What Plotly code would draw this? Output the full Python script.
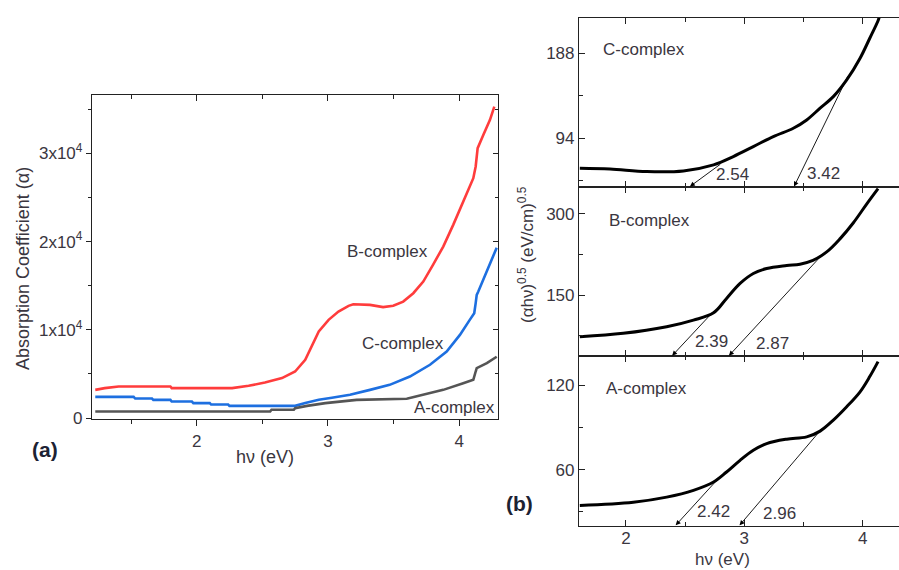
import plotly.graph_objects as go

W, H = 899, 570

# ---------------- Panel (a): absorption coefficient ----------------
B_x = [1.228, 1.30, 1.406, 1.80, 1.81, 2.27, 2.396, 2.52, 2.65, 2.75, 2.827, 2.878, 2.93, 3.005, 3.08, 3.157,
       3.193, 3.32, 3.42, 3.497, 3.573, 3.65, 3.726, 3.80, 3.878, 3.954, 4.03, 4.107, 4.125, 4.14, 4.183,
       4.234, 4.267]
B_y = [3200, 3400, 3580, 3580, 3400, 3400, 3660, 4030, 4530, 5280, 6600, 8110, 9810, 11130, 12070, 12720,
       12900, 12830, 12570, 12720, 13200, 14150, 15470, 17360, 19430, 21890, 24530, 27180, 28500, 30580, 32080,
       33780, 35290]

C_x = [1.228, 1.52, 1.532, 1.66, 1.67, 1.80, 1.81, 1.964, 1.975, 2.10, 2.11, 2.24, 2.25, 2.75, 2.827, 2.93,
       3.03, 3.168, 3.32, 3.47, 3.624, 3.777, 3.904, 4.005, 4.08, 4.114, 4.125, 4.133, 4.145, 4.21, 4.285]
C_y = [2410, 2410, 2220, 2220, 2070, 2070, 1880, 1880, 1700, 1700, 1540, 1540, 1390, 1390, 1700, 2070,
       2300, 2640, 3200, 3770, 4710, 6040, 7540, 9430, 11130, 11890, 13020, 13960, 14340, 16600, 19300]

A_x = [1.228, 2.56, 2.57, 2.74, 2.75, 2.84, 2.98, 3.08, 3.218, 3.60, 3.726, 3.878, 4.03, 4.107, 4.125,
       4.133, 4.21, 4.285]
A_y = [750, 750, 940, 940, 1130, 1390, 1700, 1880, 2070, 2190, 2640, 3200, 3960, 4340, 5280,
       5660, 6230, 6950]

a_ytickvals = [0, 10000, 20000, 30000]
a_yticktext = ["0", "1x10<sup>4</sup>", "2x10<sup>4</sup>", "3x10<sup>4</sup>"]

# ---------------- Panel (b): Tauc plots ----------------
tc_x = [1.61, 1.865, 2.175, 2.485, 2.74, 2.907, 3.076, 3.245, 3.414, 3.527, 3.64, 3.752, 3.865, 3.978, 4.06, 4.13, 4.14]
tc_y = [60.8, 60, 57.1, 57.8, 64.5, 73.7, 84.7, 95.8, 105, 114.2, 127.2, 140, 158.5, 182.5, 204.6, 224, 228]

tb_x = [1.61, 1.977, 2.344, 2.57, 2.74, 2.85, 2.964, 3.076, 3.189, 3.358, 3.47, 3.58, 3.696, 3.81, 3.92, 4.035, 4.13]
tb_y = [73.5, 79.7, 91.8, 104, 117.5, 144, 171.5, 189.8, 199, 204.5, 207, 214, 229.5, 254, 282.8, 318, 346]

ta_x = [1.61, 2.062, 2.344, 2.57, 2.74, 2.85, 2.964, 3.076, 3.189, 3.358, 3.527, 3.64, 3.752, 3.865, 3.978, 4.06, 4.13]
ta_y = [34.6, 36.9, 40.5, 45.3, 51.2, 58.3, 66.6, 73.7, 78.5, 81.6, 83.2, 87.3, 95.1, 104.6, 115.2, 126, 136.6]

# band gaps (tangent intercepts) and tangent upper points
gaps_C = [2.54, 3.42]
tan_C_x = [2.81, 3.88]
tan_C_y = [66.4, 164]
gaps_B = [2.39, 2.87]
tan_B_x = [2.724, 3.654]
tan_B_y = [116.4, 223.4]
gaps_A = [2.42, 2.96]
tan_A_x = [2.78, 3.668]
tan_A_y = [53.6, 90.3]

# label positions of the gap values
lab_C = [(2.904, 54), (3.672, 55)]
lab_B = [(2.724, 64), (3.238, 61)]
lab_A = [(2.737, 30), (3.293, 29)]

rangeC = [40, 227]
rangeB = [38, 349]
rangeA = [20, 140.6]
xr_b = [1.603, 4.307]
xr_a = [1.203, 4.295]
yr_a = [-100, 36600]

FONT = "Liberation Sans, Arial, sans-serif"
TXT = "#3a3640"

def px(xp):
    return xp / W

def py(yp):
    return 1 - yp / H

fig = go.Figure()

fig.add_trace(go.Scatter(x=B_x, y=B_y, mode="lines", line=dict(color="#ff3c3c", width=2.6),
                         xaxis="x", yaxis="y", showlegend=False))
fig.add_trace(go.Scatter(x=C_x, y=C_y, mode="lines", line=dict(color="#1d6fe0", width=2.6),
                         xaxis="x", yaxis="y", showlegend=False))
fig.add_trace(go.Scatter(x=A_x, y=A_y, mode="lines", line=dict(color="#555555", width=2.6),
                         xaxis="x", yaxis="y", showlegend=False))
# dummy for the inside-tick overlay axes of panel (a)
fig.add_trace(go.Scatter(x=[None], y=[None], xaxis="x5", yaxis="y5", showlegend=False, hoverinfo="skip"))

fig.add_trace(go.Scatter(x=tc_x, y=tc_y, mode="lines", line=dict(color="black", width=3, shape="spline"),
                         xaxis="x2", yaxis="y2", showlegend=False))
fig.add_trace(go.Scatter(x=tb_x, y=tb_y, mode="lines", line=dict(color="black", width=3, shape="spline"),
                         xaxis="x3", yaxis="y3", showlegend=False))
fig.add_trace(go.Scatter(x=ta_x, y=ta_y, mode="lines", line=dict(color="black", width=3, shape="spline"),
                         xaxis="x4", yaxis="y4", showlegend=False))

tickfont = dict(family=FONT, size=17, color=TXT)

# panel (a) axes
fig.update_layout(
    xaxis=dict(domain=[px(92), px(498)], range=xr_a, anchor="y", showline=True, linecolor="#222",
               linewidth=1.3, mirror=True, ticks="outside", ticklen=6, tickcolor="#222", dtick=1, tick0=0,
               minor=dict(ticks="outside", ticklen=4, dtick=0.5, tick0=0, tickcolor="#222"),
               showgrid=False, zeroline=False, tickfont=tickfont, automargin=False),
    yaxis=dict(domain=[py(419), py(95)], range=yr_a, anchor="x", showline=True, linecolor="#222",
               linewidth=1.3, mirror=True, ticks="outside", ticklen=5, tickcolor="#222",
               tickvals=a_ytickvals, ticktext=a_yticktext,
               minor=dict(ticks="outside", ticklen=3, dtick=5000, tick0=0, tickcolor="#222"),
               showgrid=False, zeroline=False, tickfont=tickfont, automargin=False),
    xaxis5=dict(overlaying="x", side="top", anchor="y5", range=xr_a, ticks="inside", ticklen=6,
                tickcolor="#222", dtick=1, tick0=0, showticklabels=False, showgrid=False, zeroline=False,
                showline=False, automargin=False,
                minor=dict(ticks="inside", ticklen=4, dtick=0.5, tick0=0, tickcolor="#222")),
    yaxis5=dict(overlaying="y", side="right", anchor="x5", range=yr_a, ticks="inside", ticklen=5,
                tickcolor="#222", tickvals=a_ytickvals, showticklabels=False, showgrid=False, zeroline=False,
                showline=False, automargin=False,
                minor=dict(ticks="inside", ticklen=3, dtick=5000, tick0=0, tickcolor="#222")),
)

# panel (b) axes
def xb(anchor, labels):
    d = dict(domain=[px(579), 1.0], range=xr_b, anchor=anchor, showline=True, linecolor="#222",
             linewidth=1.2, mirror="ticks", ticks="inside", ticklen=6, tickcolor="#222", dtick=1, tick0=0,
             minor=dict(ticks="inside", ticklen=4, dtick=0.5, tick0=0, tickcolor="#222"),
             showticklabels=labels, showgrid=False, zeroline=False, tickfont=tickfont, automargin=False)
    if labels:
        d["ticklabelstandoff"] = -4
    return d

def yb(anchor, dom, rng, dt):
    return dict(domain=dom, range=rng, anchor=anchor, showline=True, linecolor="#222", linewidth=1.2,
                mirror=False, ticks="inside", ticklen=6, tickcolor="#222", dtick=dt, tick0=0,
                minor=dict(ticks="inside", ticklen=4, dtick=dt / 2, tick0=0, tickcolor="#222"),
                showgrid=False, zeroline=False, tickfont=tickfont, automargin=False)

fig.update_layout(
    xaxis2=xb("y2", False), yaxis2=yb("x2", [py(187), py(18)], rangeC, 94),
    xaxis3=xb("y3", False), yaxis3=yb("x3", [py(356), py(187)], rangeB, 150),
    xaxis4=xb("y4", True), yaxis4=yb("x4", [py(526), py(356)], rangeA, 60),
)

ann = []
lblfont = dict(family=FONT, size=17, color=TXT)

# panel (a) curve labels
ann.append(dict(x=3.457, y=18830, xref="x", yref="y", text="B-complex", showarrow=False, font=lblfont))
ann.append(dict(x=3.574, y=8490, xref="x", yref="y", text="C-complex", showarrow=False, font=lblfont))
ann.append(dict(x=3.967, y=1250, xref="x", yref="y", text="A-complex", showarrow=False, font=lblfont))

def pann(xp, yp, text, size, color=TXT, angle=0, bold=False):
    ann.append(dict(x=px(xp), y=py(yp), xref="paper", yref="paper", xanchor="center", yanchor="middle",
                    text=f"<b>{text}</b>" if bold else text, textangle=angle, showarrow=False,
                    font=dict(family=FONT, size=size, color=color)))

# titles
pann(23, 269, "Absorption Coefficient (α)", 18, angle=-90)
pann(265, 457, "hν (eV)", 18)
pann(722, 559, "hν (eV)", 17)
pann(526, 255, "(αhν)<sup>0.5</sup> (eV/cm)<sup>0.5</sup>", 17, angle=-90)
pann(45, 449, "(a)", 21, color="#1c2233", bold=True)
pann(519, 503, "(b)", 21, color="#1c2233", bold=True)

# panel (b) labels
ann.append(dict(x=1.79, y=192, xref="x2", yref="y2", text="C-complex", xanchor="left", showarrow=False, font=lblfont))
ann.append(dict(x=1.837, y=288, xref="x3", yref="y3", text="B-complex", xanchor="left", showarrow=False, font=lblfont))
ann.append(dict(x=1.814, y=117.6, xref="x4", yref="y4", text="A-complex", xanchor="left", showarrow=False, font=lblfont))

def tangents(xa, ya, gaps, tx, ty, rng, labs):
    for g, x1, y1, (lx, lyy) in zip(gaps, tx, ty, labs):
        ann.append(dict(x=g, y=rng[0] + 0.5, xref=xa, yref=ya, ax=x1, ay=y1, axref=xa, ayref=ya,
                        showarrow=True, arrowhead=2, arrowsize=1.1, arrowwidth=0.9, arrowcolor="black",
                        standoff=0, startstandoff=0, text=""))
        ann.append(dict(x=lx, y=lyy, xref=xa, yref=ya, text=f"{g:.2f}", showarrow=False, font=lblfont))

tangents("x2", "y2", gaps_C, tan_C_x, tan_C_y, rangeC, lab_C)
tangents("x3", "y3", gaps_B, tan_B_x, tan_B_y, rangeB, lab_B)
tangents("x4", "y4", gaps_A, tan_A_x, tan_A_y, rangeA, lab_A)

fig.update_layout(
    width=W, height=H, margin=dict(l=0, r=0, t=0, b=0, autoexpand=False),
    paper_bgcolor="white", plot_bgcolor="white", annotations=ann,
    font=dict(family=FONT, color=TXT),
)

fig.write_html("out.html")
